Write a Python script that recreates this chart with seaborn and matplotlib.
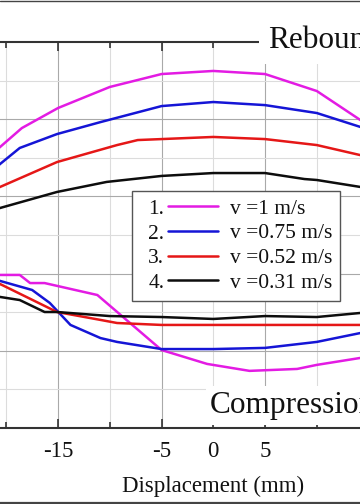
import numpy as np
import pandas as pd
import matplotlib
matplotlib.use("Agg")
import matplotlib.pyplot as plt
import seaborn as sns
from matplotlib.legend_handler import HandlerLine2D
from matplotlib.lines import Line2D
from matplotlib.text import Text
from matplotlib.ticker import FixedLocator, FixedFormatter, NullFormatter

# ---------------- data (displacement mm, force N) ----------------
speeds = ["v =1 m/s", "v =0.75 m/s", "v =0.52 m/s", "v =0.31 m/s"]
numbers = ["1.", "2.", "3.", "4."]
colors = ["#e31be3", "#1515d6", "#e51717", "#0d0d0d"]

# rebound branch
reb1_x = [-21.5, -20.6, -18.5, -15, -10, -5, 0, 5, 10, 14.2, 15.5]
reb1_y = [414, 456, 554, 658, 767, 834, 850, 834, 746, 596, 550]
reb2_x = [-21.5, -20.6, -18.7, -15.1, -10.9, -5, 0, 5, 10, 14.2, 15.5]
reb2_y = [326, 368, 451, 523, 585, 668, 689, 673, 632, 560, 530]
reb3_x = [-21.5, -20.6, -15.1, -9.3, -7.3, -5, 0, 5, 10, 14.2, 15.5]
reb3_y = [228, 249, 378, 466, 492, 497, 508, 497, 466, 414, 404]
reb4_x = [-21.5, -20.6, -15.1, -10.3, -5, 0, 5, 8.8, 10, 14.2, 15.5]
reb4_y = [124, 140, 223, 275, 306, 321, 321, 290, 285, 249, 240]

# compression branch
com1_x = [-21.5, -20.6, -18.7, -17.7, -16.3, -11.2, -5, -0.6, 3.5, 8.1, 10, 14.2, 15.5]
com1_y = [-207, -207, -207, -249, -249, -311, -596, -668, -704, -694, -673, -637, -620]
com2_x = [-21.5, -20.6, -17.5, -15.8, -13.8, -10.9, -9.3, -5, 0, 5, 10, 14.2, 15.5]
com2_y = [-228, -238, -285, -352, -466, -534, -554, -591, -591, -585, -554, -508, -495]
com3_x = [-21.5, -20.6, -15.1, -10.9, -9.3, -5, 0, 5, 10, 14.2, 15.5]
com3_y = [-275, -254, -399, -440, -456, -466, -466, -466, -466, -466, -466]
com4_x = [-21.5, -20.6, -18.7, -16.3, -15.1, -10, -5, 0, 5, 10, 14.2, 15.5]
com4_y = [-311, -321, -337, -399, -399, -420, -425, -435, -420, -425, -404, -399]

xticks_major = [-15, -5, 5, 15]
major_labels = ["-15", "-5", "5", ""]
xticks_minor = [-20, -10, 0, 10]
minor_labels = ["", "", "0", ""]

# ---------------- build long table ----------------
rows = []
reb = [(reb1_x, reb1_y), (reb2_x, reb2_y), (reb3_x, reb3_y), (reb4_x, reb4_y)]
com = [(com1_x, com1_y), (com2_x, com2_y), (com3_x, com3_y), (com4_x, com4_y)]
for s, (rx, ry), (cx, cy) in zip(speeds, reb, com):
    for x, y in zip(rx, ry):
        rows.append((s, "reb", x, y))
    for x, y in zip(cx, cy):
        rows.append((s, "com", x, y))
df = pd.DataFrame(rows, columns=["speed", "branch", "disp", "force"])

# ---------------- figure ----------------
sns.set_theme(style="white")
plt.rcParams["font.family"] = ["Liberation Serif", "DejaVu Serif"]

W, H = 360, 504
fig = plt.figure(figsize=(W / 100, H / 100), dpi=100)

xlim = (-25, 25)
px_per_mm = 10.35
x0_px = 213.3
left_px = x0_px + xlim[0] * px_per_mm
right_px = x0_px + xlim[1] * px_per_mm
top_px, bot_px = 42, 428
ax = fig.add_axes([left_px / W, 1 - bot_px / H, (right_px - left_px) / W, (bot_px - top_px) / H])

sns.lineplot(data=df, x="disp", y="force", hue="speed", units="branch",
             estimator=None, palette=dict(zip(speeds, colors)), hue_order=speeds,
             linewidth=1.8, ax=ax, legend=False, sort=False)

ax.set_xlim(*xlim)
ax.set_ylim(-1000, 1000)

ax.xaxis.set_major_locator(FixedLocator(xticks_major))
ax.xaxis.set_major_formatter(FixedFormatter(major_labels))
ax.xaxis.set_minor_locator(FixedLocator(xticks_minor))
ax.xaxis.set_minor_formatter(FixedFormatter(minor_labels))
ax.yaxis.set_major_locator(FixedLocator([-600, -200, 200, 600]))
ax.yaxis.set_minor_locator(FixedLocator([-800, -400, 0, 400, 800]))
ax.yaxis.set_major_formatter(NullFormatter())

ax.grid(which="major", color="#a9a9a9", linewidth=0.8)
ax.grid(which="minor", color="#dcdcdc", linewidth=0.8)

for sp in ax.spines.values():
    sp.set_color("#333333")
    sp.set_linewidth(1.5)

ax.tick_params(axis="x", which="both", direction="in", top=True, bottom=True,
               colors="#333333", labelcolor="#111111", labelsize=16.5, pad=9.5)
ax.tick_params(axis="x", which="major", length=6.5, width=1.2)
ax.tick_params(axis="x", which="minor", length=4, width=1.2)
ax.tick_params(axis="y", which="both", direction="in", left=True, right=True, length=5)

ax.set_xlabel("Displacement (mm)", fontsize=16.5, color="#111111", labelpad=10)
ax.set_ylabel("")

ax.text(5.3, 969, "Rebound", fontsize=22.5, color="#111111", va="baseline", ha="left",
        bbox=dict(boxstyle="square,pad=0.3", facecolor="white", edgecolor="none"), zorder=5)
ax.text(-0.3, -922, "Compression", fontsize=22.5, color="#111111", va="baseline", ha="left",
        bbox=dict(boxstyle="square,pad=0.15", facecolor="white", edgecolor="none"), zorder=5)


# ---------------- legend with numbered handles ----------------
class NumberedHandler(HandlerLine2D):
    def __init__(self, num, **kw):
        super().__init__(**kw)
        self.num = num

    def create_artists(self, legend, orig_handle, xdescent, ydescent, width, height,
                       fontsize, trans):
        yc = (height - ydescent) / 2
        x_start = -xdescent + 1.33 * fontsize
        x_end = -xdescent + width
        line = Line2D([x_start, x_end], [yc, yc])
        self.update_prop(line, orig_handle, legend)
        line.set_transform(trans)
        txt = Text(-xdescent + 0.4 * fontsize, yc - 0.36 * fontsize, self.num,
                   ha="left", va="baseline", fontsize=fontsize,
                   family=["Liberation Serif", "DejaVu Serif"], color="#111111")
        txt.set_transform(trans)
        return [txt, line]


handles = [Line2D([], [], color=c, linewidth=1.8) for c in colors]
hmap = {h: NumberedHandler(n) for h, n in zip(handles, numbers)}
leg = ax.legend(handles, speeds, handler_map=hmap, loc="upper left",
                bbox_to_anchor=(132 / W, 1 - 191 / H), bbox_transform=fig.transFigure,
                borderaxespad=0, fontsize=15.5, frameon=True, fancybox=False,
                framealpha=1, edgecolor="#555555", handlelength=3.65,
                handletextpad=0.56, labelspacing=0.22, borderpad=0.35)
leg.get_frame().set_linewidth(1.0)
for t in leg.get_texts():
    t.set_color("#111111")

# image frame lines at top and bottom edges
fig.add_artist(Line2D([0, 1], [1 - 0.5 / H, 1 - 0.5 / H], transform=fig.transFigure,
                      color="#444444", linewidth=1.0))
fig.add_artist(Line2D([0, 1], [1.5 / H, 1.5 / H], transform=fig.transFigure,
                      color="#444444", linewidth=1.6))

fig.savefig("out.png", dpi=100)
